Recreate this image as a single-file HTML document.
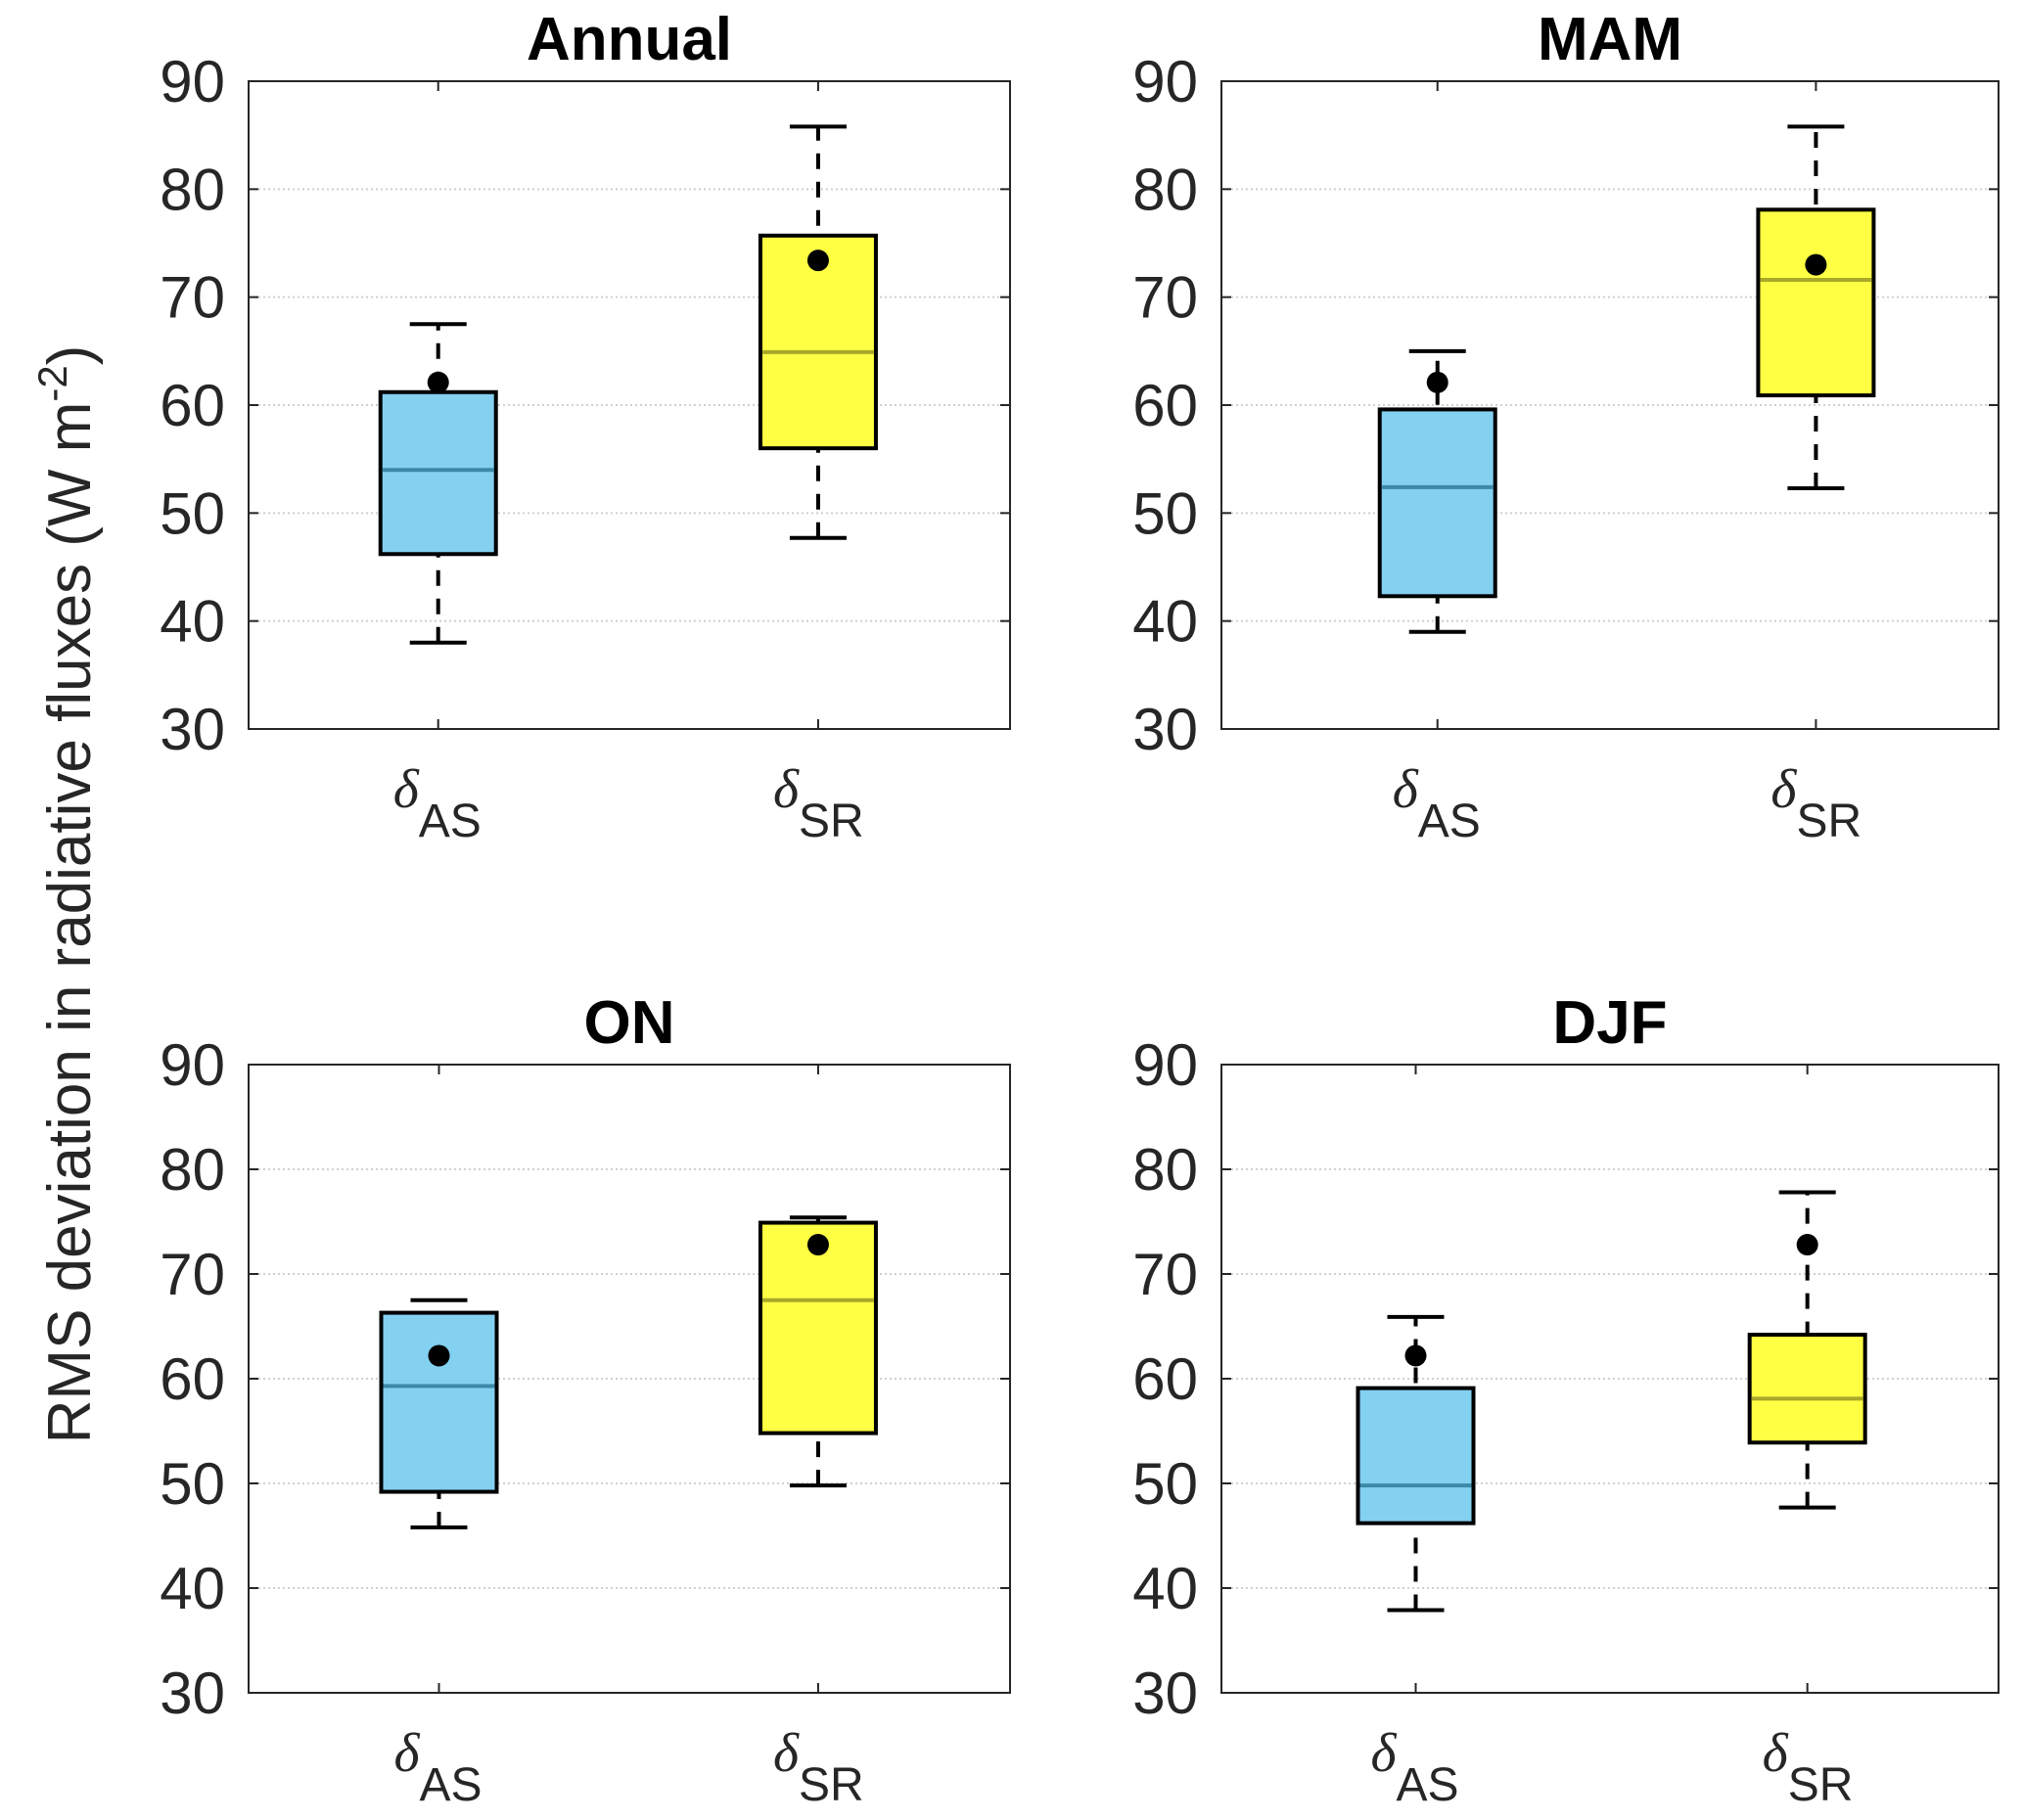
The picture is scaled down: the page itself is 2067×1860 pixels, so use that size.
<!DOCTYPE html>
<html><head><meta charset="utf-8"><style>
body{margin:0;background:#fff}
svg{display:block}
text{font-family:"Liberation Sans",Arial,sans-serif;fill:#262626}
</style></head><body>
<svg id="chart" width="2067" height="1860" viewBox="0 0 2067 1860" xmlns="http://www.w3.org/2000/svg">
<text transform="translate(92,914) rotate(-90)" text-anchor="middle" font-size="62">RMS deviation in radiative fluxes (W m<tspan dy="-24" font-size="42">-2</tspan><tspan dy="24">)</tspan></text>
</svg>
<script>
const panelTitles = ["Annual","MAM","ON","DJF"];
const categories = ["AS","SR"];
const whiskerLow  = [[38,47.7],[39,52.3],[45.8,49.8],[37.9,47.7]];
const q1          = [[46.2,56],[42.3,60.9],[49.2,54.8],[46.2,53.9]];
const medians     = [[54,64.9],[52.4,71.6],[59.3,67.5],[49.8,58.1]];
const q3          = [[61.2,75.7],[59.6,78.1],[66.3,74.9],[59.1,64.2]];
const whiskerHigh = [[67.5,85.8],[65,85.8],[67.5,75.4],[65.9,77.8]];
const means       = [[62.1,73.4],[62.1,73],[62.2,72.8],[62.2,72.8]];
const yTicks = [30,40,50,60,70,80,90];

const layout = [
  {l:254,r:1032,t:83,b:745,p:[0.249,0.748]},
  {l:1248,r:2042,t:83,b:745,p:[0.278,0.765]},
  {l:254,r:1032,t:1088,b:1730,p:[0.25,0.748]},
  {l:1248,r:2042,t:1088,b:1730,p:[0.25,0.754]}
];
const fills = ["#84d0f0","#ffff44"];
const medCol = ["#3c89a6","#aaa82a"];
const NS="http://www.w3.org/2000/svg";
const svg=document.getElementById('chart');
function mk(tag,attrs,parent){const e=document.createElementNS(NS,tag);for(const k in attrs)e.setAttribute(k,attrs[k]);(parent||svg).appendChild(e);return e;}

panelTitles.forEach((title,p)=>{
  const L=layout[p];
  const g=mk('g',{});
  
  
  const y=v=>L.b-(v-30)/60*(L.b-L.t);
  const w=L.r-L.l;
  const x=i=>L.l+w*L.p[i];
  yTicks.forEach(v=>{
    if(v>30&&v<90){
      const gl=mk('line',{x1:L.l,x2:L.r,y1:y(v),y2:y(v),stroke:'#d0d0d0','stroke-width':2,'stroke-dasharray':'2 3'},g);
      
      
    }
    mk('line',{x1:L.l,x2:L.l+10,y1:y(v),y2:y(v),stroke:'#262626','stroke-width':2},g);
    mk('line',{x1:L.r,x2:L.r-10,y1:y(v),y2:y(v),stroke:'#262626','stroke-width':2},g);
    const t=mk('text',{x:L.l-24,y:y(v)+21,'text-anchor':'end','font-size':60},g);
    t.textContent=v;
    
    
  });
  const tt=mk('text',{x:(L.l+L.r)/2,y:L.t-22,'text-anchor':'middle','font-size':62,'font-weight':'bold',style:'fill:#000'},g);
  tt.textContent=title;
  
  
  categories.forEach((c,i)=>{
    const cx=x(i);
    mk('line',{x1:cx,x2:cx,y1:L.t,y2:L.t+10,stroke:'#262626','stroke-width':2},g);
    mk('line',{x1:cx,x2:cx,y1:L.b,y2:L.b-10,stroke:'#262626','stroke-width':2},g);
    const wk=mk('line',{x1:cx,x2:cx,y1:y(whiskerLow[p][i]),y2:y(whiskerHigh[p][i]),stroke:'#000','stroke-width':4,'stroke-dasharray':'16 13'},g);
    
    
    [whiskerLow[p][i],whiskerHigh[p][i]].forEach(v=>{
      const cap=mk('line',{x1:cx-29,x2:cx+29,y1:y(v),y2:y(v),stroke:'#000','stroke-width':4},g);
      
      
    });
    const bx=mk('rect',{x:cx-59,width:118,y:y(q3[p][i]),height:y(q1[p][i])-y(q3[p][i]),fill:fills[i],stroke:'#000','stroke-width':4},g);
    
    
    const md=mk('line',{x1:cx-57,x2:cx+57,y1:y(medians[p][i]),y2:y(medians[p][i]),stroke:medCol[i],'stroke-width':4},g);
    
    
    const mn=mk('circle',{cx:cx,cy:y(means[p][i]),r:11,fill:'#000'},g);
    
    
    const xl=mk('text',{x:cx-46,y:L.b+80,'font-size':56},g);
    xl.innerHTML='<tspan font-family="Liberation Serif" font-style="italic">δ</tspan><tspan dy="30" font-size="48">'+c+'</tspan>';
    
    
  });
  const fr=mk('rect',{x:L.l,y:L.t,width:w,height:L.b-L.t,fill:'none',stroke:'#262626','stroke-width':2},g);
  
  
});
</script>
</body></html>
